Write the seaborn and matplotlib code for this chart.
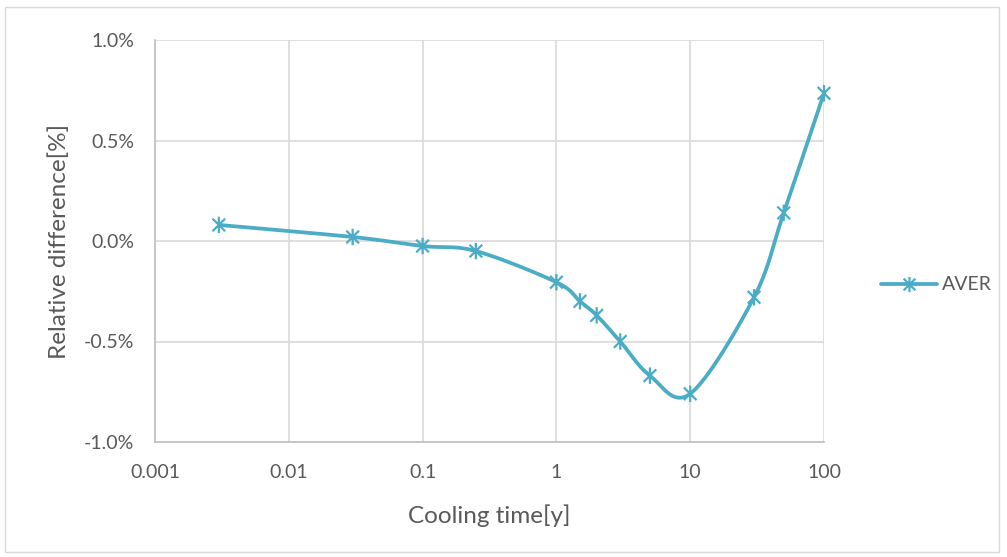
import numpy as np
import pandas as pd
import matplotlib
matplotlib.use("Agg")
import matplotlib.pyplot as plt
import seaborn as sns
from matplotlib.path import Path
from matplotlib.patches import Rectangle
from matplotlib.lines import Line2D

# data
cooling_time = [0.003, 0.03, 0.1, 0.25, 1, 1.5, 2, 3, 5, 10, 30, 50, 100]
rel_diff = [0.08, 0.02, -0.025, -0.05, -0.205, -0.30, -0.37, -0.50, -0.67, -0.76, -0.28, 0.14, 0.735]
series_name = "AVER"
x_ticks = [0.001, 0.01, 0.1, 1, 10, 100]
y_ticks = [-1.0, -0.5, 0.0, 0.5, 1.0]

color = "#4BACC6"
text_color = "#595959"

sns.set_theme(style="white")
plt.rcParams["font.family"] = ["Lato", "DejaVu Sans"]

df = pd.DataFrame({"t": cooling_time, "d": rel_diff})

fig = plt.figure(figsize=(10.07, 5.57), dpi=100)
ax = fig.add_axes([155 / 1007, 1 - 442 / 557, (824 - 155) / 1007, (442 - 40) / 557])
ax.set_xscale("log")
ax.set_xlim(0.001, 100)
ax.set_ylim(-1.0, 1.0)


# Excel-style smoothed line (Catmull-Rom bezier in display space)
def smooth(xs, ys, n=40):
    px = np.log10(xs) * 133.8
    py = np.array(ys) * 201.0
    P = np.column_stack([px, py])
    P = np.vstack([P[0], P, P[-1]])
    out = []
    for i in range(1, len(P) - 2):
        p0, p1, p2, p3 = P[i - 1], P[i], P[i + 1], P[i + 2]
        c1 = p1 + (p2 - p0) / 6
        c2 = p2 - (p3 - p1) / 6
        t = np.linspace(0, 1, n)[:, None]
        seg = (1 - t) ** 3 * p1 + 3 * (1 - t) ** 2 * t * c1 + 3 * (1 - t) * t ** 2 * c2 + t ** 3 * p2
        out.append(seg)
    out = np.vstack(out)
    return 10 ** (out[:, 0] / 133.8), out[:, 1] / 201.0


sx, sy = smooth(cooling_time, rel_diff)
curve = pd.DataFrame({"t": sx, "d": sy})
sns.lineplot(data=curve, x="t", y="d", sort=False, color=color, lw=2.7, ax=ax, zorder=3)

# asterisk marker: x plus vertical bar
star = Path([(-1, -1), (1, 1), (-1, 1), (1, -1), (0, -1.3), (0, 1.3)],
            [Path.MOVETO, Path.LINETO, Path.MOVETO, Path.LINETO, Path.MOVETO, Path.LINETO])
sns.scatterplot(data=df, x="t", y="d", marker=star, s=140, facecolor="none",
                edgecolor=color, linewidth=1.6, color=color, ax=ax, zorder=4)
for c in ax.collections:
    c.set_clip_on(False)

ax.set_xticks(x_ticks)
ax.set_xticklabels(["0.001", "0.01", "0.1", "1", "10", "100"])
ax.set_yticks(y_ticks)
ax.set_yticklabels([f"{v:.1f}%" for v in y_ticks])
ax.minorticks_off()
ax.tick_params(length=0, labelsize=14, colors=text_color)
ax.tick_params(axis="y", pad=15)
ax.tick_params(axis="x", pad=16)
ax.grid(True, color="#D9D9D9", lw=1.2)
for s in ["top", "right"]:
    ax.spines[s].set_visible(False)
for s in ["left", "bottom"]:
    ax.spines[s].set_color("#BFBFBF")
    ax.spines[s].set_linewidth(1.2)

ax.set_xlabel("Cooling time[y]", fontsize=17.5, color=text_color, labelpad=17)
ax.set_ylabel("Relative difference[%]", fontsize=17.5, color=text_color, labelpad=10)

handle = Line2D([], [], color=color, lw=2.7, marker=star, markersize=11,
                markeredgewidth=1.6, markerfacecolor="none")
fig.legend([handle], [series_name], loc="center left", bbox_to_anchor=(881 / 1007, 1 - 285 / 557),
           frameon=False, fontsize=14, labelcolor=text_color, handlelength=2.9,
           handletextpad=0.25, borderaxespad=0, borderpad=0)

fig.patches.append(Rectangle((5 / 1007, 5 / 557), 994 / 1007, 545 / 557, transform=fig.transFigure,
                             fill=False, edgecolor="#D9D9D9", lw=1))

fig.savefig("out.png", dpi=100)
